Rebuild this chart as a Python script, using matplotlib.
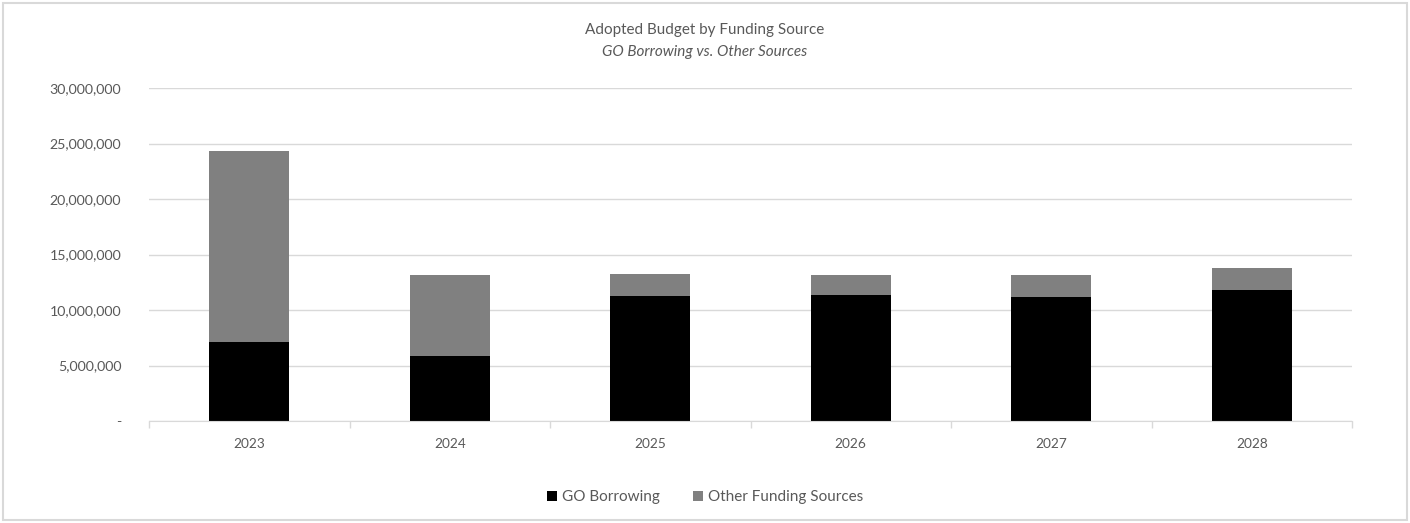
import matplotlib
matplotlib.use("Agg")
from matplotlib import pyplot as plt
from matplotlib.patches import Rectangle
from matplotlib.ticker import FuncFormatter, FixedLocator
import numpy as np

annees = ["2023", "2024", "2025", "2026", "2027", "2028"]
go_borrowing = [7140000, 5860000, 11300000, 11320000, 11170000, 11800000]
autres_sources = [17160000, 7320000, 1900000, 1860000, 1950000, 1950000]
yticks = [0, 5000000, 10000000, 15000000, 20000000, 25000000, 30000000]

gris_texte = "#595959"
gris_grille = "#d9d9d9"
plt.rcParams['font.family'] = ['Lato', 'DejaVu Sans']

fig = plt.figure(figsize=(14.1, 5.23), dpi=100)
ax = fig.add_axes([149/1410, 1-421/523, (1352-149)/1410, (421-88)/523])

x = np.arange(len(annees))
ax.bar(x, go_borrowing, width=0.4, color="black", label="GO Borrowing", zorder=3)
ax.bar(x, autres_sources, width=0.4, bottom=go_borrowing, color="#808080",
       label="Other Funding Sources", zorder=3)

ax.set_xlim(-0.5, len(annees) - 0.5)
ax.set_ylim(0, 30000000)
ax.set_yticks(yticks)
ax.yaxis.set_major_formatter(FuncFormatter(lambda v, p: "-" if v == 0 else f"{v:,.0f}"))
ax.set_xticks(x)
ax.set_xticklabels(annees)
ax.xaxis.set_minor_locator(FixedLocator(np.arange(-0.5, len(annees), 1.0)))
ax.tick_params(axis="x", which="major", length=0, pad=12, labelsize=9.8, labelcolor=gris_texte)
ax.tick_params(axis="x", which="minor", length=5, color=gris_grille, width=1)
ax.tick_params(axis="y", length=0, pad=20, labelsize=10.2, labelcolor=gris_texte)
ax.grid(axis="y", color=gris_grille, linewidth=1, zorder=0)
for s in ["top", "right", "left"]:
    ax.spines[s].set_visible(False)
ax.spines["bottom"].set_color(gris_grille)
ax.spines["bottom"].set_zorder(4)

fig.text(0.5, 1-30/523, "Adopted Budget by Funding Source", ha="center", va="center",
         fontsize=11, color=gris_texte)
fig.text(0.5, 1-52/523, "GO Borrowing vs. Other Sources", ha="center", va="center",
         fontsize=11, color=gris_texte, style="italic")

fig.legend(loc="center", bbox_to_anchor=(0.5, 1-497/523), ncol=2, frameon=False,
           fontsize=11, labelcolor=gris_texte, handlelength=0.65, handleheight=0.65,
           handletextpad=0.3, columnspacing=2.2)

fig.patches.append(Rectangle((3/1410, 3/523), 1-6/1410, 1-6/523, transform=fig.transFigure,
                             fill=False, edgecolor=gris_grille, linewidth=1.5))

fig.savefig("out.png", dpi=100)
